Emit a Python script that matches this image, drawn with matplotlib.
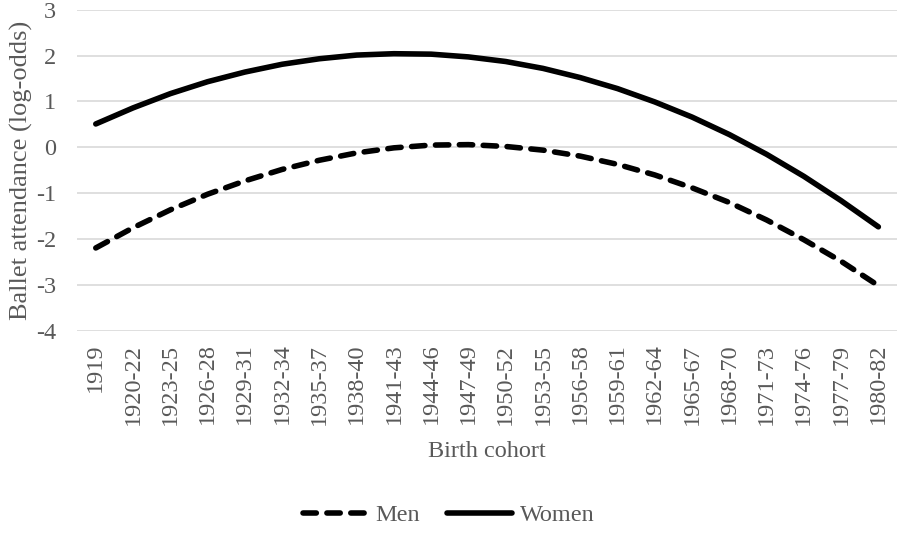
import matplotlib
matplotlib.use("Agg")
from matplotlib import pyplot as plt

cohorts = ["1919", "1920-22", "1923-25", "1926-28", "1929-31", "1932-34",
           "1935-37", "1938-40", "1941-43", "1944-46", "1947-49", "1950-52",
           "1953-55", "1956-58", "1959-61", "1962-64", "1965-67", "1968-70",
           "1971-73", "1974-76", "1977-79", "1980-82"]
men = [-2.19, -1.75, -1.36, -1.02, -0.73, -0.48, -0.28, -0.12, -0.01, 0.05, 0.06,
       0.02, -0.06, -0.19, -0.37, -0.60, -0.88, -1.20, -1.58, -2.01, -2.48, -3.01]
women = [0.51, 0.86, 1.17, 1.43, 1.64, 1.81, 1.93, 2.01, 2.04, 2.03, 1.97,
         1.87, 1.72, 1.52, 1.28, 0.99, 0.66, 0.28, -0.15, -0.63, -1.16, -1.73]
yticks = [-4, -3, -2, -1, 0, 1, 2, 3]

plt.rcParams["font.family"] = ["Liberation Serif", "DejaVu Serif"]
grey = "#595959"
fs = 17.5

fig = plt.figure(figsize=(8.97, 5.34), dpi=100)
ax = fig.add_axes([0.086, 0.380, 0.914, 0.602])

x = range(len(cohorts))
ax.plot(x, men, color="black", lw=4, dashes=(2.4, 1.9),
        dash_capstyle="round", solid_capstyle="round", label="Men")
ax.plot(x, women, color="black", lw=4, solid_capstyle="round", label="Women")

# Formatar o grafico
ax.set_xlim(-0.5, len(cohorts) - 0.5)
ax.set_ylim(-4, 3)
ax.set_yticks(yticks)
ax.set_yticklabels([str(v) for v in yticks])
ax.set_xticks(list(x))
ax.set_xticklabels(cohorts, rotation=90)
ax.grid(axis="y", color="#d9d9d9", lw=1.2)
ax.set_axisbelow(True)
for s in ax.spines.values():
    s.set_visible(False)
ax.tick_params(axis="both", length=0, labelsize=fs, labelcolor=grey)
ax.tick_params(axis="x", pad=9)
ax.tick_params(axis="y", pad=15)
ax.set_xlabel("Birth cohort", fontsize=fs, color=grey, labelpad=12)
ax.set_ylabel("Ballet attendance (log-odds)", fontsize=19, color=grey, labelpad=2)

leg = fig.legend(loc="center", bbox_to_anchor=(0.5, 0.035), ncol=2, frameon=False,
                 fontsize=fs, handlelength=2.7, columnspacing=1.1, handletextpad=0.3)
for t in leg.get_texts():
    t.set_color(grey)

fig.savefig("out.png", dpi=100)
